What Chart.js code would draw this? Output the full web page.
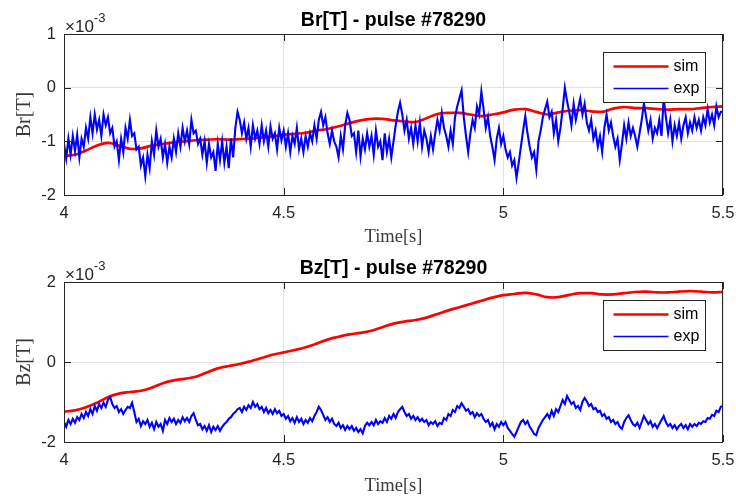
<!DOCTYPE html>
<html>
<head>
<meta charset="utf-8">
<script src="https://cdn.jsdelivr.net/npm/chart.js@4.4.1/dist/chart.umd.min.js"></script>
<style>
  html, body { margin: 0; padding: 0; background: #fff; }
  #wrap { position: relative; width: 736px; height: 498px; }
  canvas { position: absolute; left: 0; }
</style>
</head>
<body>
<div id="wrap">
  <canvas id="brChart" width="736" height="249" style="top:0"></canvas>
  <canvas id="bzChart" width="736" height="250" style="top:248px"></canvas>
</div>
<script>
// pulse and axis settings
const pulse = '78290';
const yExponent = '-3';           // values below are in units of 1e-3 T
const xTicks = [4, 4.5, 5, 5.5];
const brTicks = [-2, -1, 0, 1];
const bzTicks = [-2, 0, 2];

// sampling of the two signals (seconds)
const simStart = 4.0, simStep = 0.025;
const expStart = 4.0, expStep = 0.005;

// simulated Br (x1e-3 T), 4.0 .. 5.5 s
const brSim = [
  -1.27, -1.25, -1.17, -1.08, -1.03, -1.08, -1.14, -1.13, -1.08, -1.05,
  -1.02, -1.00, -0.98, -0.97, -0.96, -0.97, -0.96, -0.95, -0.93, -0.91,
  -0.88, -0.86, -0.84, -0.80, -0.77, -0.72, -0.66, -0.61, -0.58, -0.58,
  -0.61, -0.63, -0.64, -0.57, -0.49, -0.47, -0.47, -0.50, -0.53, -0.50,
  -0.46, -0.41, -0.40, -0.45, -0.50, -0.46, -0.43, -0.42, -0.44, -0.45,
  -0.39, -0.36, -0.38, -0.38, -0.40, -0.41, -0.40, -0.40, -0.38, -0.36,
  -0.35
];

// measured Br (x1e-3 T)
const brExp = [
  -1.05, -1.32, -0.95, -1.25, -0.9, -1.18, -0.88, -1.3, -0.95, -1.1,
  -0.75, -0.95, -0.55, -0.85, -0.5, -0.78, -0.6, -0.9, -0.5, -0.7,
  -0.55, -0.85, -0.75, -1.1, -1.0, -1.35, -0.95, -1.2, -0.75, -0.95,
  -0.6, -0.9, -0.85, -1.15, -1.1, -1.45, -1.3, -1.65, -1.25, -1.5,
  -1.0, -1.25, -0.8, -1.1, -0.95, -1.3, -1.05, -1.4, -1.1, -1.3,
  -0.95, -1.2, -0.85, -1.1, -0.75, -1.0, -0.8, -1.05, -0.6, -0.85,
  -0.8, -1.05, -0.95, -1.25, -1.0, -1.4, -1.05, -1.3, -1.2, -1.55,
  -1.05, -1.35, -1.0, -1.4, -1.1, -1.5, -0.95, -1.3, -0.75, -0.45,
  -0.6, -0.85, -0.65, -0.95, -0.75, -1.1, -0.7, -0.95, -0.8, -1.05,
  -0.7, -1.0, -0.8, -1.1, -0.72, -0.95, -0.85, -1.15, -0.75, -0.98,
  -0.8, -1.1, -0.85, -1.2, -0.9, -1.05, -0.75, -1.15, -0.95, -1.2,
  -0.9, -1.1, -0.85, -1.0, -0.7, -0.95, -0.6, -0.45, -0.7, -0.55,
  -0.85, -1.05, -0.8, -1.0, -1.1, -1.3, -0.9, -1.15, -0.7, -0.47,
  -0.6, -0.9, -0.85, -1.2, -0.8, -1.28, -0.95, -1.15, -0.85, -1.1,
  -0.9, -1.25, -0.8, -1.1, -1.0, -1.35, -0.85, -1.2, -0.95, -1.3,
  -1.0, -0.7, -0.45, -0.28, -0.5, -0.8, -0.6, -0.95, -0.75, -1.05,
  -0.7, -1.0, -0.65, -1.1, -0.8, -0.95, -1.2, -0.9, -1.15, -0.85,
  -0.6, -0.8, -0.47, -0.75, -0.9, -1.1, -0.8, -1.05, -0.55, -0.35,
  -0.2, -0.05, -0.55, -0.9, -1.2, -0.85, -0.6, -0.75, -0.35, -0.5,
  -0.07, -0.4, -0.75, -0.55, -0.9, -1.1, -1.35, -0.95, -0.75, -1.05,
  -0.9, -1.15, -1.3, -1.2, -1.45, -1.35, -1.68, -1.4, -1.1, -0.8,
  -0.53, -0.85, -1.1, -1.3, -1.2, -1.53, -1.0, -0.8, -0.55, -0.4,
  -0.26, -0.55, -0.45, -0.85, -0.6, -1.0, -0.75, -0.4, 0.0, -0.25,
  -0.45, -0.7, -0.3, -0.6, -0.4, -0.2, -0.5, -0.3, -0.65, -0.8,
  -0.6, -0.95, -0.8, -1.1, -0.9, -1.2, -0.75, -0.5, -0.8, -0.65,
  -0.9, -1.1, -0.95, -1.35, -1.05, -0.7, -0.95, -0.65, -0.9, -0.75,
  -0.9, -1.1, -0.85, -0.6, -0.29, -0.55, -0.8, -0.6, -0.95, -0.75,
  -0.85, -0.6, -0.9, -0.2, -0.55, -0.85, -0.6, -1.0, -0.7, -0.9,
  -0.65, -0.95, -0.7, -0.55, -0.85, -0.65, -0.8, -0.55, -0.75, -0.6,
  -0.8, -0.55, -0.7, -0.4, -0.65, -0.5, -0.7, -0.35, -0.55, -0.45,
  -0.45
];

// simulated Bz (x1e-3 T)
const bzSim = [
  -1.24, -1.21, -1.13, -1.02, -0.88, -0.79, -0.75, -0.72, -0.64, -0.53,
  -0.46, -0.42, -0.37, -0.26, -0.16, -0.10, -0.05, 0.02, 0.10, 0.18,
  0.24, 0.30, 0.37, 0.46, 0.56, 0.63, 0.69, 0.73, 0.78, 0.87,
  0.96, 1.01, 1.05, 1.11, 1.20, 1.29, 1.37, 1.45, 1.53, 1.61,
  1.67, 1.70, 1.73, 1.69, 1.62, 1.62, 1.68, 1.72, 1.72, 1.69,
  1.69, 1.72, 1.75, 1.76, 1.74, 1.74, 1.76, 1.77, 1.76, 1.74,
  1.75
];

// measured Bz (x1e-3 T)
const bzExp = [
  -1.5, -1.62, -1.45, -1.55, -1.42, -1.52, -1.38, -1.45, -1.3, -1.4,
  -1.25, -1.35, -1.18, -1.3, -1.1, -1.22, -1.05, -1.15, -1.02, -1.12,
  -0.95, -0.87, -1.05, -1.15, -1.1, -1.25, -1.18, -1.3, -1.2, -1.12,
  -1.15, -1.02, -1.25, -1.5, -1.42, -1.6, -1.48, -1.55, -1.45, -1.62,
  -1.52, -1.68, -1.5, -1.62, -1.55, -1.72, -1.45, -1.55, -1.4, -1.5,
  -1.42, -1.55, -1.45, -1.52, -1.38, -1.48, -1.4, -1.5, -1.35, -1.28,
  -1.45, -1.58, -1.55, -1.68, -1.6, -1.72, -1.58, -1.75, -1.62, -1.7,
  -1.6, -1.72, -1.62, -1.55, -1.5, -1.42, -1.38, -1.3, -1.25, -1.18,
  -1.15, -1.25, -1.12, -1.2, -1.08, -1.15, -1.0, -1.12, -1.05, -1.18,
  -1.12, -1.25, -1.15, -1.28, -1.2, -1.3, -1.18, -1.28, -1.22, -1.35,
  -1.3, -1.42, -1.35, -1.48, -1.4, -1.52, -1.38, -1.5, -1.42, -1.55,
  -1.45, -1.52, -1.4, -1.48, -1.35, -1.25, -1.12, -1.2, -1.32, -1.45,
  -1.38, -1.5, -1.42, -1.55, -1.6, -1.52, -1.65, -1.58, -1.7, -1.6,
  -1.68, -1.6, -1.72, -1.65, -1.75, -1.68, -1.78, -1.6, -1.52, -1.58,
  -1.5, -1.58, -1.45, -1.55, -1.48, -1.52, -1.4, -1.5, -1.35, -1.42,
  -1.3, -1.4, -1.25, -1.18, -1.12, -1.25, -1.35, -1.3, -1.42, -1.35,
  -1.45, -1.38, -1.48, -1.42, -1.5, -1.45, -1.58, -1.5, -1.55, -1.48,
  -1.6, -1.52, -1.55, -1.4, -1.45, -1.3, -1.35, -1.2, -1.25, -1.1,
  -1.15, -1.03, -1.12, -1.22, -1.18, -1.3, -1.25, -1.38, -1.28, -1.35,
  -1.3, -1.42, -1.5, -1.45, -1.6, -1.52, -1.68, -1.55, -1.62, -1.5,
  -1.58, -1.5, -1.65, -1.72, -1.8, -1.87, -1.75, -1.62, -1.5, -1.45,
  -1.55, -1.48, -1.62, -1.7, -1.8, -1.83, -1.65, -1.55, -1.45, -1.38,
  -1.3, -1.4, -1.22, -1.35, -1.18, -1.25, -1.1, -0.95, -1.05, -0.85,
  -0.95, -1.05, -1.0, -1.15, -1.1, -1.2, -1.0, -0.9, -0.98, -1.1,
  -1.05, -1.18, -1.15, -1.25, -1.22, -1.35, -1.3, -1.42, -1.38, -1.5,
  -1.45, -1.55, -1.5, -1.62, -1.67, -1.5, -1.4, -1.33, -1.45, -1.55,
  -1.6, -1.52, -1.65, -1.5, -1.35, -1.45, -1.55, -1.48, -1.62, -1.55,
  -1.65, -1.55, -1.45, -1.35, -1.5, -1.6, -1.55, -1.65, -1.58, -1.68,
  -1.6, -1.55, -1.65, -1.58, -1.68, -1.55, -1.62, -1.55, -1.6, -1.52,
  -1.55, -1.48, -1.5, -1.4, -1.42, -1.32, -1.35, -1.22, -1.25, -1.12,
  -1.1
];

const SANS = '"Liberation Sans", Arial, Helvetica, sans-serif';
const SERIF = '"Liberation Serif", "Times New Roman", serif';
const INK = '#262626';

function toPoints(values, start, step) {
  return values.map((v, i) => ({ x: start + i * step, y: v }));
}

// box, inward ticks, exponent label and legend drawn MATLAB style
const matlabFrame = {
  id: 'matlabFrame',
  afterDatasetsDraw(chart, args, opts) {
    const { ctx, chartArea: a, scales: { x, y } } = chart;
    const tl = 7;
    ctx.save();
    ctx.strokeStyle = INK;
    ctx.lineWidth = 1;
    ctx.beginPath();
    x.ticks.forEach(t => {
      const px = Math.round(x.getPixelForValue(t.value)) + 0.5;
      ctx.moveTo(px, a.bottom); ctx.lineTo(px, a.bottom - tl);
      ctx.moveTo(px, a.top); ctx.lineTo(px, a.top + tl);
    });
    y.ticks.forEach(t => {
      const py = Math.round(y.getPixelForValue(t.value)) + 0.5;
      ctx.moveTo(a.left, py); ctx.lineTo(a.left + tl, py);
      ctx.moveTo(a.right, py); ctx.lineTo(a.right - tl, py);
    });
    ctx.stroke();
    ctx.strokeRect(Math.round(a.left) + 0.5, Math.round(a.top) + 0.5,
                   Math.round(a.width) - 1, Math.round(a.height));

    // x10^-3 multiplier
    ctx.fillStyle = INK;
    ctx.textBaseline = 'middle';
    ctx.textAlign = 'left';
    ctx.font = '17px ' + SANS;
    ctx.fillText('\u00d710', a.left + 1, a.top - 7);
    const w = ctx.measureText('\u00d710').width;
    ctx.font = '13px ' + SANS;
    ctx.fillText(opts.exponent, a.left + 1 + w, a.top - 16);

    // legend box inside the axes
    const bw = 102, bh = 50;
    const bx = Math.round(a.right - 120) + 0.5, by = Math.round(a.top + 18) + 0.5;
    ctx.fillStyle = '#fff';
    ctx.fillRect(bx, by, bw, bh);
    ctx.strokeStyle = INK;
    ctx.lineWidth = 1;
    ctx.strokeRect(bx, by, bw, bh);
    ctx.font = '16px ' + SANS;
    chart.data.datasets.forEach((ds, i) => {
      const ly = by + 14 + i * 22;
      ctx.strokeStyle = ds.borderColor;
      ctx.lineWidth = opts.legendWidths[i];
      ctx.beginPath();
      ctx.moveTo(bx + 10, ly); ctx.lineTo(bx + 65, ly);
      ctx.stroke();
      ctx.fillStyle = '#000';
      ctx.fillText(ds.label, bx + 70, ly);
    });
    ctx.restore();
  }
};

function makeChart(id, quantity, simVals, expVals, yTicks, yMin, yMax, axisHeight) {
  return new Chart(document.getElementById(id), {
    type: 'line',
    data: {
      datasets: [
        { label: 'sim', data: toPoints(simVals, simStart, simStep),
          borderColor: '#ff0000', borderWidth: 2.7, tension: 0.4,
          pointRadius: 0, order: 1 },
        { label: 'exp', data: toPoints(expVals, expStart, expStep),
          borderColor: '#0000ff', borderWidth: 2.1, tension: 0,
          pointRadius: 0, order: 0 }
      ]
    },
    options: {
      responsive: false,
      animation: false,
      layout: { padding: { left: 0, right: 13, top: 0, bottom: 0 } },
      plugins: {
        legend: { display: false },
        tooltip: { enabled: false },
        title: {
          display: true,
          fullSize: false,
          text: quantity + ' - pulse #' + pulse,
          color: '#000',
          font: { family: SANS, size: 19.5, weight: 'bold' },
          padding: { top: 9, bottom: 1.6 }
        },
        matlabFrame: { exponent: yExponent, legendWidths: [2.7, 1.3] }
      },
      scales: {
        x: {
          type: 'linear', min: 4, max: 5.5,
          afterBuildTicks: s => { s.ticks = xTicks.map(v => ({ value: v })); },
          afterFit: s => { s.height = axisHeight; s.paddingLeft = 0; s.paddingRight = 13; },
          grid: { color: '#e2e2e2', drawTicks: false },
          border: { display: false },
          ticks: { color: INK, padding: 9, font: { family: SANS, size: 16.5 },
                   maxRotation: 0, callback: v => String(v) },
          title: { display: true, text: 'Time[s]', color: '#3a3a3a',
                   font: { family: SERIF, size: 18.5 }, padding: { top: 0, bottom: 1 } }
        },
        y: {
          min: yMin, max: yMax,
          afterBuildTicks: s => { s.ticks = yTicks.map(v => ({ value: v })); },
          afterFit: s => { s.width = 64; },
          grid: { color: '#e2e2e2', drawTicks: false },
          border: { display: false },
          ticks: { color: INK, padding: 8, font: { family: SANS, size: 16.5 },
                   callback: v => String(v) },
          title: { display: true, text: quantity, color: '#3a3a3a',
                   font: { family: SERIF, size: 20 }, padding: { top: 13, bottom: 0 } }
        }
      }
    },
    plugins: [matlabFrame]
  });
}

makeChart('brChart', 'Br[T]', brSim, brExp, brTicks, -2, 1, 54);
makeChart('bzChart', 'Bz[T]', bzSim, bzExp, bzTicks, -2, 2, 56);
</script>
</body>
</html>
